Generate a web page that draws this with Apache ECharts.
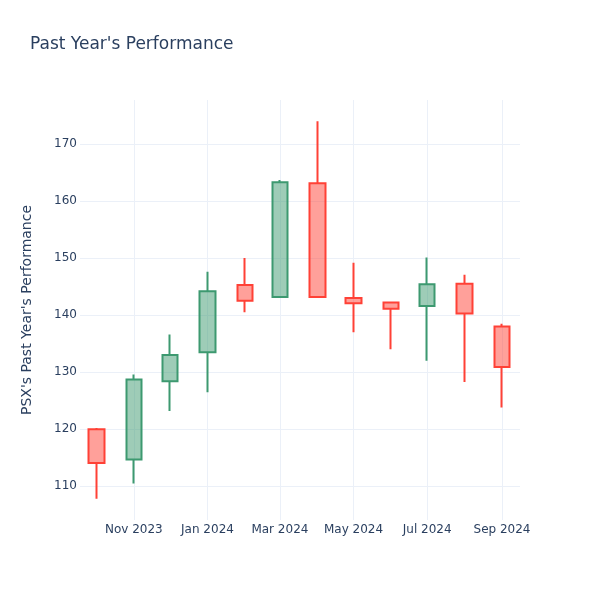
<!DOCTYPE html>
<html>
<head>
<meta charset="utf-8">
<script src="https://cdn.jsdelivr.net/npm/echarts@6/dist/echarts.min.js"></script>
<style>html,body{margin:0;padding:0;background:#fff}#c{width:600px;height:600px}</style>
</head>
<body>
<div id="c"></div>
<script>
// ---- data ----
var months = ['2023-10-01','2023-11-01','2023-12-01','2024-01-01','2024-02-01','2024-03-01',
              '2024-04-01','2024-05-01','2024-06-01','2024-07-01','2024-08-01','2024-09-01'];
var openVals  = [120.0, 114.7, 128.4, 133.5, 145.3, 143.2, 163.1, 143.0, 142.2, 141.6, 145.5, 138.0];
var closeVals = [114.1, 128.7, 133.0, 144.2, 142.5, 163.3, 143.2, 142.1, 141.1, 145.4, 140.3, 130.9];
var lowVals   = [107.8, 110.5, 123.2, 126.5, 140.5, 143.1, 143.0, 137.0, 134.0, 132.0, 128.3, 123.8];
var highVals  = [120.2, 129.6, 136.6, 147.6, 150.0, 163.7, 174.0, 149.2, 142.3, 150.1, 147.1, 138.5];
var xTickDates  = ['2023-11-01','2024-01-01','2024-03-01','2024-05-01','2024-07-01','2024-09-01'];
var xTickLabels = ['Nov 2023','Jan 2024','Mar 2024','May 2024','Jul 2024','Sep 2024'];
var yTickValues = [110, 120, 130, 140, 150, 160, 170];

function ts(s) {
  var p = s.split('-');
  return Date.UTC(+p[0], +p[1] - 1, +p[2]);
}
var DAY = 86400000;
var data = months.map(function (m, i) {
  return [ts(m), openVals[i], closeVals[i], lowVals[i], highVals[i]];
});
var xTickTs = xTickDates.map(function (d) { return ts(d); });
var xMin = ts('2023-11-01') - 44.6 * DAY;
var xMax = ts('2024-09-01') + 14.9 * DAY;

var FONT = '"DejaVu Sans", Verdana, sans-serif';
var chart = echarts.init(document.getElementById('c'), null, {renderer: 'canvas'});
var txt = '#2a3f5f';
var grid = '#EBF0F8';
chart.setOption({
  backgroundColor: '#fff',
  animation: false,
  textStyle: {fontFamily: FONT},
  title: {
    text: "Past Year's Performance",
    left: 30, top: 36, padding: 0,
    textStyle: {color: txt, fontSize: 17, fontWeight: 'normal', fontFamily: FONT}
  },
  grid: {left: 80, right: 80, top: 100, bottom: 80, containLabel: false},
  xAxis: {
    type: 'value',
    min: xMin, max: xMax,
    axisLine: {show: false},
    axisTick: {show: false, customValues: xTickTs},
    splitLine: {show: true, lineStyle: {color: grid, width: 1}},
    axisLabel: {
      customValues: xTickTs,
      color: txt, fontSize: 12, margin: 4,
      fontFamily: FONT,
      formatter: function (v) {
        var best = 0, bd = Infinity;
        for (var i = 0; i < xTickTs.length; i++) {
          var d = Math.abs(xTickTs[i] - v);
          if (d < bd) { bd = d; best = i; }
        }
        return xTickLabels[best];
      }
    }
  },
  yAxis: {
    type: 'value',
    min: 104.09, max: 177.71,
    name: "PSX's Past Year's Performance",
    nameLocation: 'middle', nameGap: 46,
    nameTextStyle: {color: txt, fontSize: 14, fontFamily: FONT},
    axisLine: {show: false},
    axisTick: {show: false, customValues: yTickValues},
    splitLine: {show: true, lineStyle: {color: grid, width: 1}},
    axisLabel: {
      customValues: yTickValues,
      color: txt, fontSize: 12, margin: 3,
      fontFamily: FONT
    }
  },
  series: [{
    type: 'candlestick',
    data: data,
    encode: {x: 0, y: [1, 2, 3, 4]},
    barWidth: 16,
    itemStyle: {
      color: 'rgba(61,153,112,0.5)',
      color0: 'rgba(255,65,54,0.5)',
      borderColor: '#3D9970',
      borderColor0: '#FF4136',
      borderWidth: 2
    }
  }]
});
</script>
</body>
</html>
